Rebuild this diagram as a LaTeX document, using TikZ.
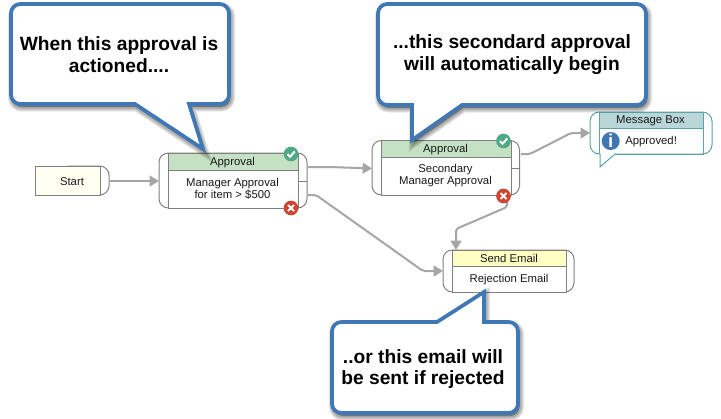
\documentclass[tikz,border=0pt]{standalone}
\usepackage{fontspec}
\setmainfont{Liberation Sans}
\usetikzlibrary{arrows.meta}
\definecolor{calloutblue}{HTML}{3F78B4}
\definecolor{flowgray}{HTML}{A6A6A6}
\definecolor{edgegray}{HTML}{808080}
\definecolor{msgteal}{HTML}{5FA3A3}
\definecolor{headgreen}{HTML}{C5E1C3}
\definecolor{headyellow}{HTML}{FFFFC4}
\definecolor{headteal}{HTML}{B9D6D8}
\definecolor{startfill}{HTML}{FFFFF2}
\definecolor{okgreen}{HTML}{4FA985}
\definecolor{failred}{HTML}{CE4631}
\definecolor{infoblue}{HTML}{3E77B2}
\tikzset{
  x=.75pt, y=-.75pt,
  smalltext/.style={font=\fontsize{8.5}{9}\selectfont, text=black!90, align=center, inner sep=0pt},
  calltext/.style={font=\fontsize{14.4}{16.4}\selectfont\bfseries, text=black, align=center, inner sep=0pt},
  capbox/.style={draw=edgegray, line width=.75pt, fill=white, rounded corners=7pt, inner sep=0pt},
  innerbox/.style={draw=edgegray, line width=.75pt, inner sep=0pt},
  flow/.style={draw=flowgray, line width=1.5pt, rounded corners=1.5pt, -{Triangle[length=7pt,width=8pt]}},
  callstroke/.style={draw=calloutblue, fill=white, line width=2.8pt, line join=miter},
  badge/.style={circle, draw=none, minimum size=11pt, inner sep=0pt},
}
% box given by its left, top, right and bottom edges
\newcommand{\placebox}[7]{%
  \node[#2, minimum width={(#5-#3)*.75pt}, minimum height={(#6-#4)*.75pt}]
    (#1) at ({(#3+#5)/2},{(#4+#6)/2}) {#7};}
% white tick or cross inside a status badge
\newcommand{\okbadge}[3]{%
  \node[badge, fill=okgreen] (#1) at (#2,#3) {};
  \draw[white, line width=1.5pt] ([shift={(-3.6,0.2)}]#1.center) -- ([shift={(-1,2.8)}]#1.center) -- ([shift={(3.8,-2.6)}]#1.center);}
\newcommand{\failbadge}[3]{%
  \node[badge, fill=failred] (#1) at (#2,#3) {};
  \draw[white, line width=1.5pt] ([shift={(-3,-3)}]#1.center) -- ([shift={(3,3)}]#1.center)
    ([shift={(-3,3)}]#1.center) -- ([shift={(3,-3)}]#1.center);}
% soft drop shadow: stacked translucent strokes under a callout outline
\newcommand{\softshadow}[1]{%
  \begin{scope}[shift={(1.5,3)}]
    \foreach \w in {7,5.5,4,2.5}
      \fill[black, opacity=.09] [draw=black, draw opacity=.09, line width=\w pt] #1;
  \end{scope}}
\newcommand{\calloutA}{[rounded corners=7pt] (135,104) -- (11,104) -- (11,4) -- (229,4) -- (229,104) [sharp corners] -- (189,104) -- (203,149) -- cycle}
\newcommand{\calloutB}{[rounded corners=7pt] (462,105) -- (646,105) -- (646,4) -- (378,4) -- (378,105) [sharp corners] -- (412,105) -- (412,140) -- cycle}
\newcommand{\calloutC}{[rounded corners=7pt] (484,322) -- (518,322) -- (518,413) -- (332,413) -- (332,322) [sharp corners] -- (437,322) -- (484,292) -- cycle}
\begin{document}
\begin{tikzpicture}
\useasboundingbox (0,0) rectangle (721,418);
\fill[white] (0,0) rectangle (721,418);

% Start node
\placebox{startcap}{capbox}{60}{166}{109}{195}{}
\placebox{start}{innerbox, fill=startfill}{35}{166}{100}{195}{}
\node[smalltext] (starttext) at (72,181.5) {Start};

% First approval
\placebox{aone}{capbox}{159}{153}{307}{208}{}
\placebox{aonehead}{innerbox, fill=headgreen}{168}{153}{298}{170}{}
\node[smalltext] (aoneheadtext) at (232.5,162.5) {Approval};
\placebox{aonebody}{innerbox, fill=white}{168}{170}{298}{208}{}
\node[smalltext] (aonetext) at (232.5,188.5) {Manager Approval\\for item > \$500};
\draw[edgegray, line width=.75pt] (298,181) -- (307,181);
\okbadge{aoneok}{291}{154}
\failbadge{aonefail}{291}{208}

% Second approval
\placebox{atwo}{capbox}{372}{140.5}{519.5}{195}{}
\placebox{atwohead}{innerbox, fill=headgreen}{381}{140.5}{511}{157}{}
\node[smalltext] (atwoheadtext) at (445.5,149.5) {Approval};
\placebox{atwobody}{innerbox, fill=white}{381}{157}{511}{195}{}
\node[smalltext] (atwotext) at (445.5,175.5) {Secondary\\Manager Approval};
\draw[edgegray, line width=.75pt] (511,168) -- (519.5,168);
\okbadge{atwook}{503.5}{141}

% Message box with its speech tail
\placebox{msg}{capbox, draw=msgteal}{590}{112}{712}{154}{}
\draw[msgteal, fill=white, line width=.75pt, line join=miter] (600,154) -- (600,167) -- (615,154);
\draw[white, line width=1pt] (600.8,154) -- (613.5,154);
\placebox{msghead}{innerbox, draw=msgteal, fill=headteal}{599}{112}{703}{128}{}
\node[smalltext] (msgheadtext) at (650.5,120.5) {Message Box};
\draw[msgteal, line width=.75pt] (599,128) -- (599,154) (615,154) -- (703,154) -- (703,128);
\node[circle, fill=infoblue, minimum size=13.5pt, inner sep=0pt, text=white, font=\fontsize{14}{14}\selectfont\bfseries] (info) at (610.7,141) {i};
\node[smalltext, anchor=west] (msgtext) at (625,141.5) {Approved!};

% Send email
\placebox{mail}{capbox}{443}{250}{574}{292}{}
\placebox{mailhead}{innerbox, fill=headyellow}{452}{250}{566}{266}{}
\node[smalltext] (mailheadtext) at (509,258.5) {Send Email};
\placebox{mailbody}{innerbox, fill=white}{452}{266}{566}{292}{}
\node[smalltext] (mailtext) at (509,279.5) {Rejection Email};

% Connector end points on the side ports
\coordinate (aoneyes) at (308,167);
\coordinate (aoneno) at (308,195);
\coordinate (atwoin) at (372,168.5);
\coordinate (mailin) at (443,271);
\coordinate (mailtop) at (456,250);
\coordinate (atwoyes) at (521,154);
\coordinate (atwono) at (507,200);
\coordinate (msgin) at (590,133);
\coordinate (startout) at (110,181);
\coordinate (aonein) at (159,181);

\draw[flow] (startout) -- (aonein);
\draw[flow] (aoneyes) -- (330,167) -- (atwoin);
\draw[flow] (aoneno) -- (316,195) -- (423,271) -- (mailin);
\draw[flow] (atwoyes) -- (530,154) -- (571,133) -- (msgin);
\draw[flow] (atwono) -- (507,207) -- (456,229) -- (mailtop);
\failbadge{atwofail}{503.5}{196}

% Callouts
\softshadow{\calloutA}
\path[callstroke] \calloutA;
\node[calltext] (calla) at (119,54.5) {When this approval is\\actioned....};
\softshadow{\calloutB}
\path[callstroke] \calloutB;
\node[calltext] (callb) at (512,54.5) {...this secondard approval\\will automatically begin};
\softshadow{\calloutC}
\path[callstroke] \calloutC;
\node[calltext] (callc) at (423,369) {..or this email will\\be sent if rejected};
\end{tikzpicture}
\end{document}
